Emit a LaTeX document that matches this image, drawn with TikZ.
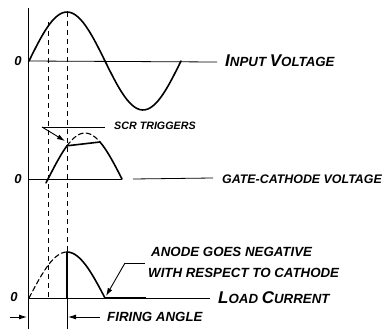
\documentclass[tikz,border=0pt]{standalone}
\usepackage{fontspec}
\setmainfont{Liberation Sans}
\usetikzlibrary{arrows.meta}
\begin{document}
\begin{tikzpicture}[x=1pt,y=-1pt,
  wave/.style={line width=1.6pt, line cap=round, line join=round},
  axisline/.style={line width=0.8pt},
  guide/.style={line width=0.8pt, dash pattern=on 5pt off 4pt},
  lbl/.style={anchor=west, inner sep=0pt, font=\bfseries\itshape\fontsize{12.4}{14}\selectfont},
  lblbig/.style={anchor=west, inner sep=0pt, font=\bfseries\itshape\fontsize{13.3}{15}\selectfont},
  zlbl/.style={inner sep=0pt, font=\bfseries\itshape\fontsize{13}{14}\selectfont},
  leader/.style={line width=0.9pt},
  tip/.style={-{Latex[length=8pt,width=5pt]}, line width=0.9pt}]
\useasboundingbox (0,0) rectangle (386,329);
% axis
\draw[axisline] (28,8) -- (28,329);
% zero lines
\coordinate (z1a) at (28,61); \coordinate (z1b) at (217,62);
\coordinate (z2a) at (28,179); \coordinate (z2b) at (122,179);
\coordinate (z2c) at (133,179); \coordinate (z2d) at (213,178);
\coordinate (z3a) at (28,298); \coordinate (z3b) at (210,298);
\draw[axisline] (z1a) -- (z1b);
\draw[axisline] (z2a) -- (z2b);
\draw[axisline] (z2c) -- (z2d);
\draw[axisline] (z3a) -- (z3b);
% zero labels
\node[zlbl] (o1) at (18,61) {0};
\node[zlbl] (o2) at (18,179) {0};
\node[zlbl] (o3) at (14,297) {0};
% guides
\draw[guide] (48,22) -- (48,298);
\draw[guide] (67,12) -- (67,252);
\draw[axisline] (67,252) -- (67,329);
% input voltage sine
\draw[wave] plot[smooth, domain=29:181, samples=60] (\x,{61-49*sin((\x-29)/76*180)});
% gate-cathode
\draw[wave] plot[smooth, domain=46:67, samples=12] (\x,{179-46*sin((\x-48)/74*180)})
  -- (100,142)
  -- plot[smooth, domain=100:122, samples=12] (\x,{179-46*sin((\x-48)/74*180)});
\draw[wave, line width=1.1pt, dash pattern=on 5pt off 3pt] plot[smooth, domain=67:100, samples=15] (\x,{179-46*sin((\x-48)/74*180)});
% load current
\draw[wave, line width=1.1pt, dash pattern=on 5pt off 3pt] plot[smooth, domain=29:67, samples=15] (\x,{298-46*sin((\x-29)/76*180)});
\draw[wave] (67,298) -- (67,252);
\draw[wave] plot[smooth, domain=67:105, samples=15] (\x,{298-46*sin((\x-29)/76*180)});
\draw[line width=2.6pt] (104,298) -- (146,298);
% labels
\node[lblbig] (inp) at (225,61) {{\fontsize{17}{18}\selectfont I}NPUT {\fontsize{17}{18}\selectfont V}OLTAGE};
\node[lbl] (gcv) at (222,179) {GATE-CATHODE VOLTAGE};
\node[lbl, font=\bfseries\itshape\fontsize{10.7}{12}\selectfont] (scr) at (114,126) {SCR TRIGGERS};
\node[lblbig] (an1) at (151,252) {ANODE GOES NEGATIVE};
\node[lblbig] (an2) at (148,273) {WITH RESPECT TO CATHODE};
\node[lblbig] (ldc) at (218,298) {{\fontsize{17}{18}\selectfont L}OAD {\fontsize{17}{18}\selectfont C}URRENT};
\node[lblbig] (fir) at (107,317) {FIRING ANGLE};
% SCR leader
\coordinate (s1) at (105,127);
\coordinate (s2) at (42,127);
\coordinate (s3) at (65,141);
\draw[leader] (s1) -- (s2);
\draw[tip] (s2) -- (s3);
% anode leader
\coordinate (a1) at (145,263);
\coordinate (a2) at (125,263);
\coordinate (a3) at (106,296);
\draw[leader] (a1) -- (a2);
\draw[tip] (a2) -- (a3);
% firing angle arrows
\coordinate (f1) at (10,317);
\coordinate (f2) at (27,317);
\coordinate (f3) at (100,317);
\coordinate (f4) at (68,317);
\draw[tip] (f1) -- (f2);
\draw[tip] (f3) -- (f4);
\end{tikzpicture}
\end{document}
